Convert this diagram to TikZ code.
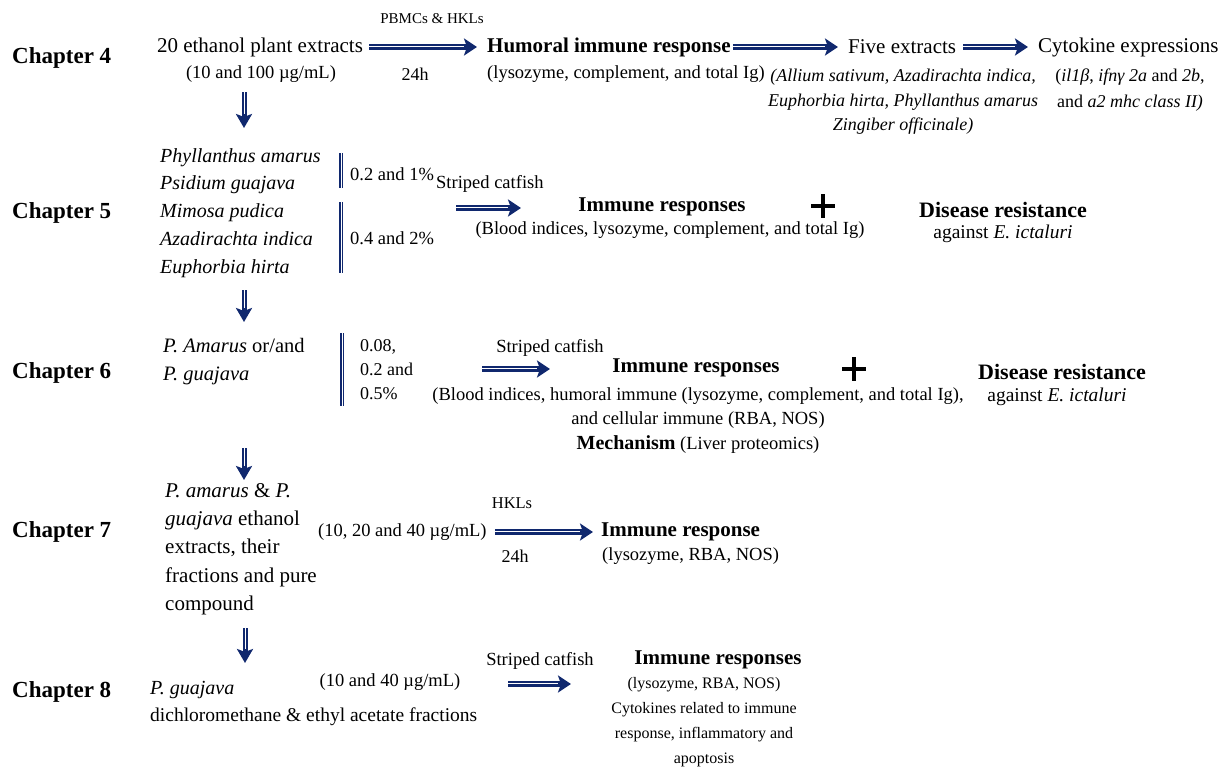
\documentclass[tikz,border=0pt]{standalone}
\usepackage{fontspec}
\setmainfont{Liberation Serif}
\usepackage{tikz}
\usetikzlibrary{arrows.meta}
\definecolor{navy}{RGB}{16,40,110}

\begin{document}
\begin{tikzpicture}[x=1pt,y=-1pt]
    \tikzset{chap/.style={font=\fontsize{23}{27}\selectfont\bfseries, inner sep=0pt, anchor=west},
             head/.style={font=\fontsize{21}{25}\selectfont\bfseries, inner sep=0pt},
             big/.style={font=\fontsize{21}{25}\selectfont, inner sep=0pt},
             txt/.style={font=\fontsize{18.5}{25}\selectfont, inner sep=0pt},
             lbl/.style={font=\fontsize{16.5}{20}\selectfont, inner sep=0pt},
             spec/.style={font=\fontsize{20}{27.8}\selectfont\itshape, inner sep=0pt, align=left},
             dblarrow/.style={draw=navy, line width=5.4pt, -{Stealth[length=13pt,width=17pt,inset=3pt]},
                 postaction={draw=white, line width=1.1pt, arrows=-, shorten >=13pt, transform canvas={yshift=0.7pt}}},
             downarrow/.style={draw=navy, line width=5pt, -{Stealth[length=14pt,width=16pt,inset=3pt]},
                 postaction={draw=white, line width=1pt, arrows=-, shorten >=14pt}},
             dosebar/.style={draw=navy, line width=4pt, postaction={draw=white, line width=0.8pt}},
             plussign/.style={draw=black, line width=3.5pt}}
    \useasboundingbox (0,0) rectangle (1229,769);

    % chapter 4
    \node[chap] (C4) at (12,58) {Chapter 4};
    \node[big] (E4) at (260,47) {20 ethanol plant extracts};
    \node[txt] (D4) at (261,74) {(10 and 100 µg/mL)};
    \node[lbl, font=\fontsize{15}{18}\selectfont] (P4) at (432,19) {PBMCs \& HKLs};
    \node[lbl, font=\fontsize{18}{20}\selectfont] (T4) at (415,74) {24h};
    \node[head, anchor=west] (H4) at (487,47) {Humoral immune response};
    \node[txt, anchor=west] (H4s) at (487,74) {(lysozyme, complement, and total Ig)};
    \node[big, anchor=west] (F4) at (848,47) {Five extracts};
    \node[txt, anchor=north, align=center, font=\fontsize{18}{24.5}\selectfont\itshape] (F4s) at (903,69)
        {(Allium sativum, Azadirachta indica,\\ Euphorbia hirta, Phyllanthus amarus\\ Zingiber officinale)};
    \node[big, anchor=west] (K4) at (1038,47) {Cytokine expressions};
    \node[txt, anchor=north, align=center, font=\fontsize{18}{26}\selectfont] (K4s) at (1130,69)
        {(\textit{il1β}, \textit{ifnγ 2a} and \textit{2b},\\ and \textit{a2 mhc class II)}};
    \draw[dblarrow] ([xshift=6pt]E4.east) -- ([xshift=-10pt]H4.west);
    \draw[dblarrow] ([xshift=2pt]H4.east) -- ([xshift=-10pt]F4.west);
    \draw[dblarrow] ([xshift=7pt]F4.east) -- ([xshift=-10pt]K4.west);
    \coordinate (V1) at (244,92);
    \draw[downarrow] (V1) -- ++(0,36);

    % chapter 5
    \node[chap] (C5) at (12,213) {Chapter 5};
    \node[spec, anchor=north west] (S5) at (160,148)
        {Phyllanthus amarus\\ Psidium guajava\\ Mimosa pudica\\ Azadirachta indica\\ Euphorbia hirta};
    \draw[dosebar] (341,153) -- (341,188);
    \draw[dosebar] (341,202) -- (341,273);
    \node[txt, anchor=west] (D5a) at (350,174) {0.2 and 1\%};
    \node[txt, anchor=west] (D5b) at (350,238) {0.4 and 2\%};
    \node[txt, anchor=west] (W5) at (436,184) {Striped catfish};
    \coordinate (A5) at (456,208);
    \draw[dblarrow] (A5) -- ++(65,0);
    \node[head] (R5) at (662,207) {Immune responses};
    \node[txt] (R5s) at (670,230) {(Blood indices, lysozyme, complement, and total Ig)};
    \draw[plussign] (811,206) -- ++(24,0) (823,194) -- ++(0,24);
    \node[head, font=\fontsize{22}{26}\selectfont\bfseries] (Z5) at (1003,210) {Disease resistance};
    \node[txt, font=\fontsize{19.5}{24}\selectfont] (Z5s) at (1003,234) {against \textit{E. ictaluri}};
    \coordinate (V2) at (244,290);
    \draw[downarrow] (V2) -- ++(0,32);

    % chapter 6
    \node[chap] (C6) at (12,373) {Chapter 6};
    \node[spec, font=\fontsize{20.5}{28}\selectfont, anchor=north west] (S6) at (163,338)
        {\textit{P. Amarus} or/and\\ \textit{P. guajava}};
    \draw[dosebar] (342,333) -- (342,406);
    \node[txt, anchor=north west, align=left, font=\fontsize{18}{24}\selectfont] (D6) at (360,339)
        {0.08,\\ 0.2 and\\ 0.5\%};
    \node[txt] (W6) at (550,348) {Striped catfish};
    \coordinate (A6) at (482,369);
    \draw[dblarrow] (A6) -- ++(68,0);
    \node[head] (R6) at (696,368) {Immune responses};
    \draw[plussign] (842,369) -- ++(24,0) (854,357) -- ++(0,24);
    \node[txt, anchor=north, align=center, font=\fontsize{18.5}{24.5}\selectfont] (R6s) at (698,387)
        {(Blood indices, humoral immune (lysozyme, complement, and total Ig),\\
         and cellular immune (RBA, NOS)\\
         {\fontsize{20}{24.5}\selectfont\bfseries Mechanism} (Liver proteomics)};
    \node[head, font=\fontsize{22}{26}\selectfont\bfseries] (Z6) at (1062,372) {Disease resistance};
    \node[txt, font=\fontsize{19.5}{24}\selectfont] (Z6s) at (1057,397) {against \textit{E. ictaluri}};
    \coordinate (V3) at (244,448);
    \draw[downarrow] (V3) -- ++(0,32);

    % chapter 7
    \node[chap] (C7) at (12,532) {Chapter 7};
    \node[spec, font=\fontsize{21}{28.3}\selectfont, anchor=north west] (S7) at (165,483)
        {\textit{P. amarus} \& \textit{P.}\\ \textit{guajava} ethanol\\ extracts, their\\ fractions and pure\\ compound};
    \node[txt, anchor=west] (D7) at (318,532) {(10, 20 and 40 µg/mL)};
    \node[head, anchor=west] (R7) at (601,532) {Immune response};
    \node[lbl] (H7) at (512,503) {HKLs};
    \node[lbl, font=\fontsize{18}{20}\selectfont] (T7) at (515,556) {24h};
    \node[txt, anchor=west] (R7s) at (602,556) {(lysozyme, RBA, NOS)};
    \draw[dblarrow] ([xshift=8pt]D7.east) -- ([xshift=-8pt]R7.west);
    \coordinate (V4) at (245,628);
    \draw[downarrow] (V4) -- ++(0,35);

    % chapter 8
    \node[chap] (C8) at (12,692) {Chapter 8};
    \node[spec, anchor=west] (S8) at (150,690) {P. guajava};
    \node[big, font=\fontsize{19.5}{24}\selectfont, anchor=west] (S8s) at (150,717) {dichloromethane \& ethyl acetate fractions};
    \node[txt] (D8) at (390,682) {(10 and 40 µg/mL)};
    \node[txt] (W8) at (540,661) {Striped catfish};
    \coordinate (A8) at (508,684);
    \draw[dblarrow] (A8) -- ++(63,0);
    \node[head] (R8) at (718,660) {Immune responses};
    \node[txt, anchor=north, align=center, font=\fontsize{16}{25}\selectfont] (R8s) at (704,677)
        {(lysozyme, RBA, NOS)\\ Cytokines related to immune\\ response, inflammatory and\\ apoptosis};
\end{tikzpicture}
\end{document}
